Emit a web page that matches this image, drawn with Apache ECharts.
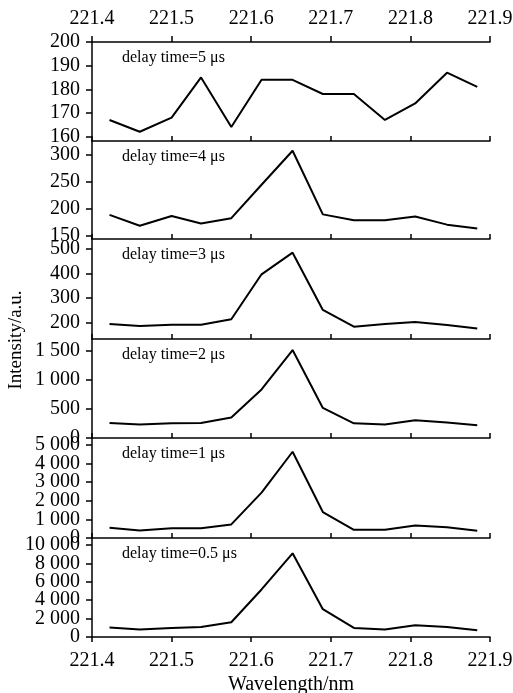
<!DOCTYPE html>
<html><head><meta charset="utf-8">
<script src="https://cdn.jsdelivr.net/npm/echarts@6/dist/echarts.min.js"></script>
<style>html,body{margin:0;padding:0;background:#fff}#c{width:513px;height:693px}</style>
</head><body><div id="c"></div>
<script>
const wavelength = [221.422, 221.460, 221.500, 221.537, 221.575, 221.613, 221.652, 221.690, 221.729, 221.768, 221.806, 221.846, 221.884];
const delay5 = [167, 162, 168, 185, 164, 184, 184, 178, 178, 167, 174, 187, 181];
const delay4 = [189, 169, 187, 173, 183, 245, 308, 190, 179, 179, 186, 171, 164];
const delay3 = [195, 187, 192, 192, 214, 397, 485, 252, 184, 195, 203, 191, 176];
const delay2 = [259, 231, 253, 259, 352, 834, 1512, 517, 253, 231, 305, 266, 219];
const delay1 = [551, 405, 530, 530, 730, 2443, 4638, 1395, 443, 443, 676, 584, 389];
const delay05 = [1025, 807, 981, 1090, 1603, 5169, 9095, 3020, 981, 807, 1276, 1090, 730];
const panelLabels = ['delay time=5 μs','delay time=4 μs','delay time=3 μs','delay time=2 μs','delay time=1 μs','delay time=0.5 μs'];
const yTicks = [
  [160,170,180,190,200],
  [150,200,250,300],
  [200,300,400,500],
  [0,500,1000,1500],
  [0,1000,2000,3000,4000,5000],
  [0,2000,4000,6000,8000,10000]
];
const seriesData = [delay5, delay4, delay3, delay2, delay1, delay05];

const yMin = [158.1, 144.4, 133.7, 0, 0, 0];
const yMax = [200, 326, 540.7, 1702, 5378, 10763];
const gridTop = [42, 141, 239, 339, 438, 538];
const gridH = [99, 98, 100, 99, 100, 99];
const FONT = 'Liberation Serif';
const fmt = v => String(v).replace(/\B(?=(\d{3})+(?!\d))/g, ' ');

const grids = [], xAxes = [], yAxes = [], series = [], titles = [];
const yLabelStyle = vals => ({show: true, customValues: vals, color: '#000', fontFamily: FONT, fontSize: 20,
  margin: 12, showMinLabel: true, showMaxLabel: true, hideOverlap: false, formatter: v => fmt(v)});
for (let i = 0; i < 6; i++) {
  grids.push({left: 92, right: 23, top: gridTop[i], height: gridH[i], containLabel: false, outerBoundsMode: 'none'});
  xAxes.push({
    gridIndex: i, type: 'value', min: 221.4, max: 221.9, interval: 0.1, position: 'bottom',
    axisLine: {show: true, onZero: false, lineStyle: {color: '#000', width: 1.5}},
    axisTick: {show: true, inside: i < 5, length: 5, lineStyle: {color: '#000', width: 1.5}},
    axisLabel: {show: i === 5, color: '#000', fontFamily: FONT, fontSize: 20, margin: 14,
      showMinLabel: true, showMaxLabel: true, hideOverlap: false,
      formatter: v => v.toFixed(1)},
    splitLine: {show: false},
    name: i === 5 ? 'Wavelength/nm' : '', nameLocation: 'middle', nameGap: 38,
    nameTextStyle: {color: '#000', fontFamily: FONT, fontSize: 20}
  });
  const evenVals = yTicks[i].filter((v, k) => k % 2 === 0);
  const oddVals = yTicks[i].filter((v, k) => k % 2 === 1);
  const mainIdx = yAxes.length;
  yAxes.push({
    gridIndex: i, type: 'value', min: yMin[i], max: yMax[i], position: 'left', offset: 0,
    axisLine: {show: true, onZero: false, lineStyle: {color: '#000', width: 1.5}},
    axisTick: {show: true, length: 6, customValues: yTicks[i], lineStyle: {color: '#000', width: 1.5}},
    axisLabel: yLabelStyle(evenVals),
    splitLine: {show: false}
  });
  yAxes.push({
    gridIndex: i, type: 'value', min: yMin[i], max: yMax[i], position: 'left', offset: 0,
    axisLine: {show: false, onZero: false},
    axisTick: {show: false},
    axisLabel: yLabelStyle(oddVals),
    splitLine: {show: false}
  });
  series.push({
    type: 'line', xAxisIndex: i, yAxisIndex: mainIdx, symbol: 'none', animation: false,
    lineStyle: {color: '#000', width: 2},
    data: wavelength.map((w, k) => [w, seriesData[i][k]])
  });
  titles.push({text: panelLabels[i], left: 117, top: gridTop[i] + 3,
    textStyle: {color: '#000', fontFamily: FONT, fontSize: 16, fontWeight: 'normal'}});
}
// top axis of first panel
xAxes.push({
  gridIndex: 0, type: 'value', min: 221.4, max: 221.9, interval: 0.1, position: 'top',
  axisLine: {show: true, onZero: false, lineStyle: {color: '#000', width: 1.5}},
  axisTick: {show: true, inside: false, length: 6, lineStyle: {color: '#000', width: 1.5}},
  axisLabel: {show: true, color: '#000', fontFamily: FONT, fontSize: 20, margin: 13,
    showMinLabel: true, showMaxLabel: true, hideOverlap: false,
    formatter: v => v.toFixed(1)},
  splitLine: {show: false}
});

const chart = echarts.init(document.getElementById('c'), null, {renderer: 'canvas'});
chart.setOption({
  animation: false,
  backgroundColor: '#fff',
  title: titles,
  grid: grids,
  xAxis: xAxes,
  yAxis: yAxes,
  series: series,
  graphic: [{
    type: 'text', x: 16, y: 340, rotation: Math.PI / 2,
    style: {text: 'Intensity/a.u.', fill: '#000', font: '19px "Liberation Serif"', align: 'center', verticalAlign: 'middle'}
  }]
});
</script></body></html>
